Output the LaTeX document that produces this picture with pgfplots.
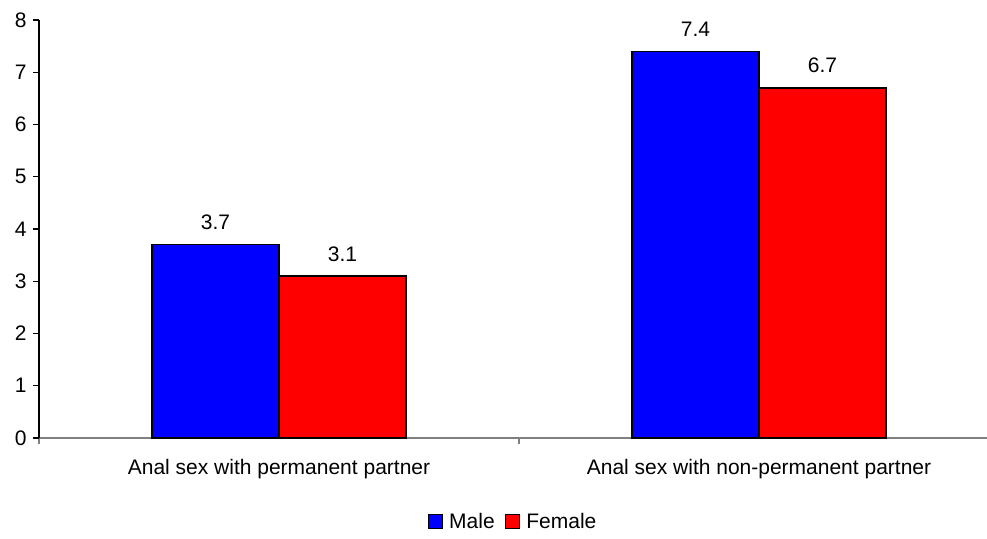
\documentclass[border=0pt]{standalone}
\usepackage{pgfplots}
\pgfplotsset{compat=1.18}
\usepackage{fontspec}
\setmainfont{Liberation Sans}
\definecolor{mblue}{RGB}{0,0,255}
\definecolor{mred}{RGB}{255,0,0}
\newcommand\f{\fontsize{21bp}{25bp}\selectfont}
\begin{document}
\begin{tikzpicture}
\begin{axis}[
  scale only axis, width=948bp, height=418bp,
  xmin=-0.5, xmax=1.475, ymin=0, ymax=8,
  axis x line=bottom, axis y line=left,
  axis line style={-, line width=1.2bp},
  x axis line style={draw=gray},
  y axis line style={draw=black},
  ybar=0pt, bar width=127bp,
  xtick={-0.5,0.5}, xticklabels={},
  tick align=outside, major tick length=6bp,
  xtick style={draw=gray, line width=1.2bp},
  ytick style={draw=black, line width=1.2bp},
  extra x ticks={0,1},
  extra x tick labels={Anal sex with permanent partner, Anal sex with non-permanent partner},
  extra x tick style={major tick length=0pt, xtick style={draw=none}, xticklabel style={yshift=-18bp}},
  ytick={0,1,...,8},
  yticklabels={0,1,2,3,4,5,6,7,8},
  tick label style={font=\f},
  yticklabel style={xshift=-3bp},
  /pgf/number format/assume math mode=true,
  nodes near coords={\pgfmathprintnumber[fixed,precision=1,fixed zerofill,assume math mode=true]{\pgfplotspointmeta}},
  nodes near coords style={font=\f, inner sep=0pt, anchor=south, yshift=14bp, text=black},
  legend style={at={(0.5,-0.2)}, anchor=center, draw=none, legend columns=2, font=\f,
    /tikz/every even column/.append style={column sep=8bp}},
  legend image code/.code={\draw[#1, line width=1.6bp] (0bp,-7bp) rectangle (14bp,7bp); \path (18bp,0bp);},
]
\addplot[fill=mblue, draw=black, line width=1.6bp] coordinates {(0,3.7) (1,7.4)};
\addplot[fill=mred, draw=black, line width=1.6bp] coordinates {(0,3.1) (1,6.7)};
\legend{Male, Female}
\end{axis}
\pgfresetboundingbox
\path[use as bounding box] (-39bp,-101bp) rectangle (948bp,438bp);
\end{tikzpicture}
\end{document}
